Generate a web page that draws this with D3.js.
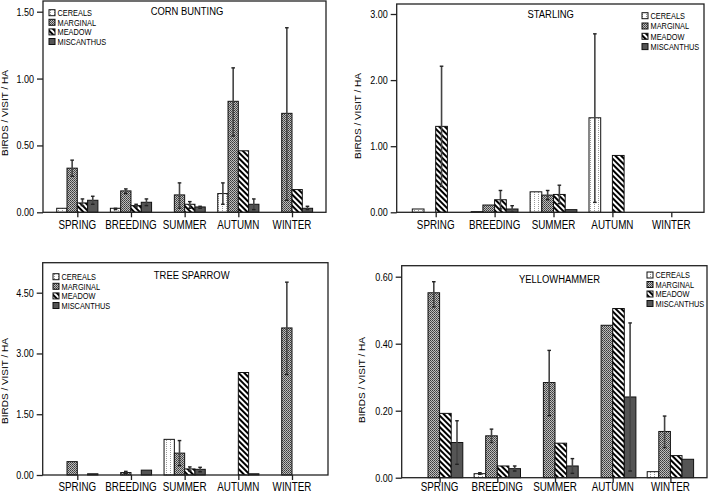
<!DOCTYPE html>
<html><head><meta charset="utf-8">
<script src="https://cdn.jsdelivr.net/npm/d3@7"></script>
<style>html,body{margin:0;padding:0;background:#fff;}svg{display:block;}</style>
</head><body>
<svg id="chart" width="708" height="493"></svg>
<script>
const seasons = ["SPRING","BREEDING","SUMMER","AUTUMN","WINTER"];
const habitats = ["CEREALS","MARGINAL","MEADOW","MISCANTHUS"];

// rows = habitats, columns = seasons
const cornBuntingMean = [[0.03,0.03,0,0.14,0],[0.33,0.16,0.13,0.83,0.74],[0.07,0.05,0.06,0.46,0.17],[0.09,0.075,0.04,0.06,0.03]];
const cornBuntingLo = [[null,0.02,null,0.06,null],[0.27,0.14,0.03,0.57,0.09],[0.05,0.04,0.03,null,null],[0.06,0.05,0.03,0.02,0.02]];
const cornBuntingHi = [[null,0.03,null,0.22,null],[0.39,0.175,0.22,1.08,1.38],[0.10,0.06,0.08,null,null],[0.12,0.10,0.045,0.10,0.045]];
const cornBuntingTicks = [0,0.5,1.0,1.5];

const starlingMean = [[0.05,0.01,0.31,1.43,0],[0,0.11,0.26,0,0],[1.30,0.19,0.27,0.86,0],[0,0.05,0.04,0,0]];
const starlingLo = [[null,null,null,0.15,null],[null,null,0.19,null,null],[0.39,0.05,0.13,null,null],[null,0.0,null,null,null]];
const starlingHi = [[null,null,null,2.70,null],[null,null,0.33,null,null],[2.21,0.33,0.41,null,null],[null,0.10,null,null,null]];
const starlingTicks = [0,1,2,3];

const treeSparrowMean = [[0,0,0.88,0,0],[0.33,0.06,0.54,0,3.63],[0,0,0.15,2.53,0],[0.03,0.12,0.14,0.03,0]];
const treeSparrowLo = [[null,null,null,null,null],[null,0.04,0.23,null,2.48],[null,null,0.10,null,null],[null,null,0.08,null,null]];
const treeSparrowHi = [[null,null,null,null,null],[null,0.09,0.85,null,4.76],[null,null,0.20,null,null],[null,null,0.19,null,null]];
const treeSparrowTicks = [0,1.5,3.0,4.5];

const yellowhammerMean = [[0,0.012,0,0,0.018],[0.552,0.125,0.284,0.455,0.138],[0.192,0.035,0.103,0.505,0.066],[0.105,0.027,0.035,0.241,0.055]];
const yellowhammerLo = [[null,0.01,null,null,null],[0.51,0.105,0.185,null,0.09],[null,null,null,null,null],[0.04,0.02,0.013,0.02,null]];
const yellowhammerHi = [[null,0.015,null,null,null],[0.585,0.145,0.38,null,0.184],[null,null,null,null,null],[0.17,0.035,0.057,0.462,null]];
const yellowhammerTicks = [0,0.2,0.4,0.6];

const titles = ["CORN BUNTING","STARLING","TREE SPARROW","YELLOWHAMMER"];
const yTitle = "BIRDS / VISIT / HA";

const svg = d3.select("#chart");
const FONT = "'Liberation Sans', Arial, sans-serif";
const SX = 0.82;

// patterns
const defs = svg.append("defs");
const pc = defs.append("pattern").attr("id","p0").attr("patternUnits","userSpaceOnUse").attr("width",4).attr("height",2);
pc.append("rect").attr("width",4).attr("height",2).attr("fill","#fff");
pc.append("rect").attr("x",2).attr("y",0).attr("width",1).attr("height",1).attr("fill","#999");
const pm = defs.append("pattern").attr("id","p1").attr("patternUnits","userSpaceOnUse").attr("width",2).attr("height",2);
pm.append("rect").attr("width",2).attr("height",2).attr("fill","#bdbdbd");
pm.append("rect").attr("x",0).attr("y",0).attr("width",1).attr("height",1).attr("fill","#3a3a3a");
pm.append("rect").attr("x",1).attr("y",1).attr("width",1).attr("height",1).attr("fill","#555");
const pd = defs.append("pattern").attr("id","p2").attr("patternUnits","userSpaceOnUse").attr("width",4).attr("height",4).attr("patternTransform","rotate(-45)");
pd.append("rect").attr("width",4).attr("height",4).attr("fill","#fff");
pd.append("rect").attr("width",2).attr("height",4).attr("fill","#000");
const fills = ["url(#p0)","url(#p1)","url(#p2)","#555"];

const panels = [
  {mean:cornBuntingMean, lo:cornBuntingLo, hi:cornBuntingHi, ticks:cornBuntingTicks, title:titles[0],
   box:[43,1,326,212.3], y0:212.3, yT:11.7, c0:77.3, c1:292, bw:10.3, titleX:187, titleY:15,
   leg:[49,12.7,9.6], catY:228.5, yLabX:8, yLabY:113},
  {mean:starlingMean, lo:starlingLo, hi:starlingHi, ticks:starlingTicks, title:titles[1],
   box:[396.7,4,704,212.3], y0:212.3, yT:14, c0:435.7, c1:671.3, bw:11.7, titleX:550.7, titleY:18,
   leg:[642,15.7,10.3], catY:229, yLabX:361, yLabY:116},
  {mean:treeSparrowMean, lo:treeSparrowLo, hi:treeSparrowHi, ticks:treeSparrowTicks, title:titles[2],
   box:[42.7,262.7,328,475], y0:475, yT:292.7, c0:77.3, c1:292, bw:10.3, titleX:191.7, titleY:279,
   leg:[53,276.7,9.6], catY:490.5, yLabX:8, yLabY:381},
  {mean:yellowhammerMean, lo:yellowhammerLo, hi:yellowhammerHi, ticks:yellowhammerTicks, title:titles[3],
   box:[401.7,265.7,707,477.7], y0:477.7, yT:276.7, c0:439.6, c1:670.4, bw:11.6, titleX:559.5, titleY:283,
   leg:[647,275,9.5], catY:491, yLabX:365, yLabY:380}
];

function stext(g, x, y, txt, size, anchor, extra) {
  return g.append("text")
    .attr("transform", `translate(${x},${y}) scale(${SX},1)` + (extra||""))
    .attr("text-anchor", anchor)
    .attr("font-family", FONT)
    .attr("font-size", size)
    .attr("fill", "#000")
    .text(txt);
}

panels.forEach(p => {
  const g = svg.append("g");
  const [bx0, by0, bx1, by1] = p.box;
  const tmax = p.ticks[p.ticks.length-1];
  const y = d3.scaleLinear().domain([0, tmax]).range([p.y0, p.yT]);
  const xc = d3.scalePoint().domain(seasons).range([p.c0, p.c1]);
  const xs = d3.scaleBand().domain(habitats).range([-2*p.bw, 2*p.bw]);

  // bars
  p.mean.forEach((row, hi) => {
    row.forEach((v, si) => {
      if (!v) return;
      const x = xc(seasons[si]) + xs(habitats[hi]);
      g.append("rect")
        .attr("x", x).attr("y", y(v))
        .attr("width", xs.bandwidth()).attr("height", y(0) - y(v))
        .attr("fill", fills[hi]).attr("stroke", "#111").attr("stroke-width", 1);
    });
  });
  // error bars
  p.mean.forEach((row, hi) => {
    row.forEach((v, si) => {
      const l = p.lo[hi][si], h = p.hi[hi][si];
      if (l === null || h === null) return;
      const cx = xc(seasons[si]) + xs(habitats[hi]) + xs.bandwidth()/2;
      g.append("line").attr("x1",cx).attr("x2",cx).attr("y1",y(l)).attr("y2",y(h))
        .attr("stroke","#444").attr("stroke-width",1.6);
      [l,h].forEach(e => g.append("line").attr("x1",cx-1.8).attr("x2",cx+1.8).attr("y1",y(e)).attr("y2",y(e))
        .attr("stroke","#222").attr("stroke-width",1.4));
    });
  });

  // box
  g.append("rect").attr("x",bx0).attr("y",by0).attr("width",bx1-bx0).attr("height",by1-by0)
    .attr("fill","none").attr("stroke","#222").attr("stroke-width",1.3);

  // y axis
  const yAxis = d3.axisLeft(y).tickValues(p.ticks).tickSize(6).tickPadding(2).tickFormat(d3.format(".2f"));
  const ya = g.append("g").attr("transform",`translate(${bx0},0)`).call(yAxis);
  ya.select(".domain").remove();
  ya.selectAll(".tick line").attr("stroke","#222").attr("stroke-width",1.3);
  ya.selectAll(".tick text").remove();
  p.ticks.forEach(t => stext(g, bx0-9, y(t)+4, d3.format(".2f")(t), 11, "end"));

  // x axis
  const xAxis = d3.axisBottom(xc).tickSize(5).tickFormat("");
  const xa = g.append("g").attr("transform",`translate(0,${p.y0})`).call(xAxis);
  xa.select(".domain").remove();
  xa.selectAll(".tick line").attr("stroke","#222").attr("stroke-width",1.3);
  seasons.forEach(s => stext(g, xc(s), p.catY, s, 12, "middle"));

  // title
  stext(g, p.titleX, p.titleY, p.title, 11.5, "middle");

  // y title
  stext(g, p.yLabX, p.yLabY, yTitle, 10, "middle", " rotate(-90)");

  // legend
  const [lx, ly, ldy] = p.leg;
  habitats.forEach((h, i) => {
    const cy = ly + i*ldy;
    g.append("rect").attr("x",lx).attr("y",cy-3).attr("width",6).attr("height",6)
      .attr("fill",fills[i]).attr("stroke","#111").attr("stroke-width",1);
    stext(g, lx+8.5, cy+3.2, h, 9, "start");
  });
});
</script>
</body></html>
